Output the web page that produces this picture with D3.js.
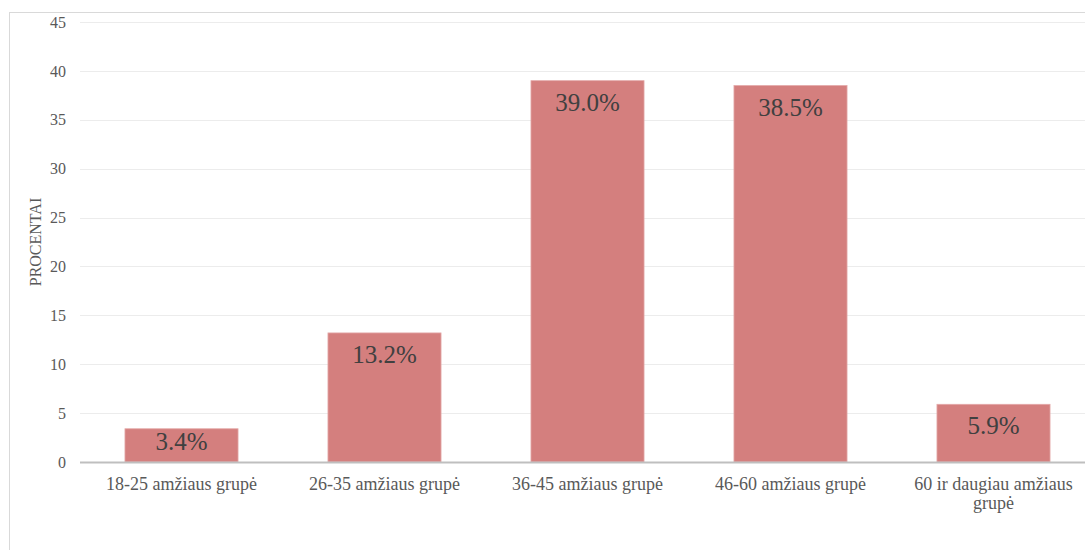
<!DOCTYPE html>
<html>
<head>
<meta charset="utf-8">
<script src="https://cdn.jsdelivr.net/npm/d3@7"></script>
<style>
  html, body { margin: 0; padding: 0; background: #fff; }
  svg { display: block; }
  svg text { font-family: "Liberation Serif", "Times New Roman", Times, serif !important; }
</style>
</head>
<body>
<svg id="chart" width="1085" height="550"></svg>
<script>
const categories = [
  "18-25 amžiaus grupė",
  "26-35 amžiaus grupė",
  "36-45 amžiaus grupė",
  "46-60 amžiaus grupė",
  "60 ir daugiau amžiaus grupė"
];
const categoryLines = [
  ["18-25 amžiaus grupė"],
  ["26-35 amžiaus grupė"],
  ["36-45 amžiaus grupė"],
  ["46-60 amžiaus grupė"],
  ["60 ir daugiau amžiaus", "grupė"]
];
const values = [3.4, 13.2, 39.0, 38.5, 5.9];
const valueLabels = ["3.4%", "13.2%", "39.0%", "38.5%", "5.9%"];
const yTicks = [0, 5, 10, 15, 20, 25, 30, 35, 40, 45];
const yTitle = "PROCENTAI";

(function () {
const svg = d3.select("#chart");

// outer frame
svg.append("rect")
  .attr("x", 9.5).attr("y", 12.5)
  .attr("width", 1100).attr("height", 560)
  .attr("fill", "none").attr("stroke", "#d9d9d9").attr("stroke-width", 1);

const pl = 80, pr = 1095, pt = 22, pb = 462;
const x = d3.scaleBand().domain(categories).range([pl, pr])
  .paddingInner(0.443).paddingOuter(0.2215);
const y = d3.scaleLinear().domain([0, 45]).range([pb, pt]);

// gridlines
svg.append("g").selectAll("line").data(yTicks.filter(t => t > 0)).join("line")
  .attr("x1", pl).attr("x2", 1085)
  .attr("y1", d => Math.round(y(d)) + 0.5).attr("y2", d => Math.round(y(d)) + 0.5)
  .attr("stroke", "#ececec").attr("stroke-width", 1);

// y axis labels
const yAxis = d3.axisLeft(y).tickValues(yTicks).tickSize(0).tickPadding(0);
const gy = svg.append("g").attr("transform", `translate(${pl - 14},0)`).call(yAxis);
gy.attr("font-family", null);
gy.select(".domain").remove();
gy.selectAll("text")
  .attr("font-size", 16).attr("fill", "#595959");

// bars
svg.append("g").selectAll("rect").data(values).join("rect")
  .attr("x", (d, i) => x(categories[i]))
  .attr("y", d => y(d))
  .attr("width", x.bandwidth())
  .attr("height", d => y(0) - y(d))
  .attr("fill", "#d47f7e")
  .attr("stroke", "#e3a9a8").attr("stroke-width", 0.8);

// x axis line
svg.append("line")
  .attr("x1", pl).attr("x2", 1085)
  .attr("y1", pb + 0.5).attr("y2", pb + 0.5)
  .attr("stroke", "#bfbfbf").attr("stroke-width", 2);

// data labels
svg.append("g").selectAll("text").data(values).join("text")
  .attr("x", (d, i) => x(categories[i]) + x.bandwidth() / 2)
  .attr("y", d => Math.min(y(d) + 30, pb - 12))
  .attr("text-anchor", "middle")
  .attr("font-size", 25).attr("fill", "#404040")
  .text((d, i) => valueLabels[i]);

// category labels
const gx = svg.append("g");
categories.forEach((c, i) => {
  const cx = x(c) + x.bandwidth() / 2;
  const t = gx.append("text")
    .attr("x", cx)
    .attr("y", 490)
    .attr("text-anchor", "middle")
    .attr("font-size", 18).attr("fill", "#595959");
  categoryLines[i].forEach((ln, j) => {
    t.append("tspan").attr("x", cx).attr("dy", j === 0 ? 0 : 19).text(ln);
  });
});

// y title
svg.append("text")
  .attr("transform", `translate(41,242) rotate(-90)`)
  .attr("text-anchor", "middle")
  .attr("font-size", 16).attr("fill", "#595959")
  .text(yTitle);
})();
</script>
</body>
</html>
